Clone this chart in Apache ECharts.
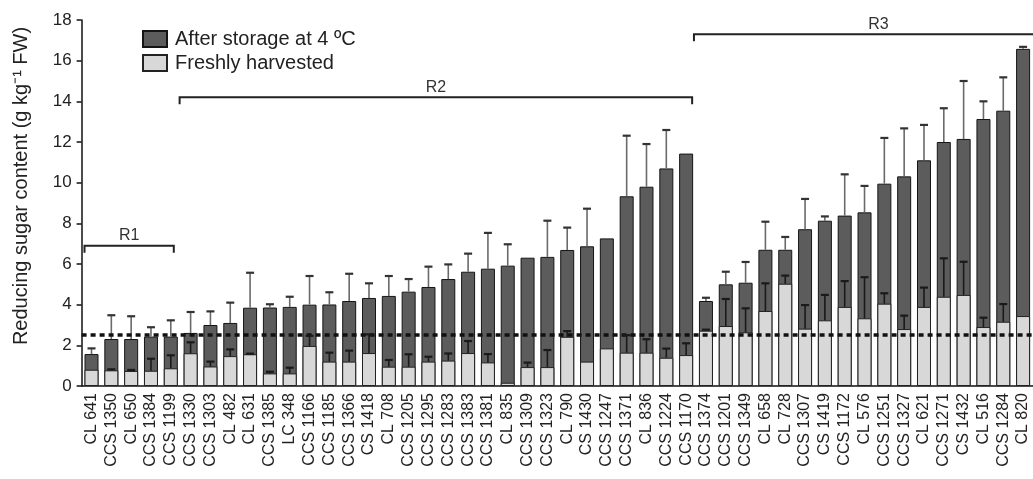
<!DOCTYPE html>
<html>
<head>
<meta charset="utf-8">
<script src="https://cdn.jsdelivr.net/npm/echarts@6/dist/echarts.min.js"></script>
<style>
html,body{margin:0;padding:0;background:#fff;}
#c{width:1033px;height:479px;}
</style>
</head>
<body>
<div id="c"></div>
<script>
const categories = ['CL 641','CCS 1350','CL 650','CCS 1384','CCS 1199','CCS 1330','CCS 1303','CL 482','CL 631','CCS 1385','LC 348','CCS 1166','CCS 1185','CCS 1366','CS 1418','CL 708','CCS 1205','CCS 1295','CCS 1283','CCS 1383','CCS 1381','CL 835','CCS 1309','CCS 1323','CL 790','CS 1430','CCS 1247','CCS 1371','CL 836','CCS 1224','CCS 1170','CCS 1374','CCS 1201','CCS 1349','CL 658','CL 728','CCS 1307','CS 1419','CCS 1172','CL 576','CCS 1251','CCS 1327','CL 621','CCS 1271','CS 1432','CL 516','CCS 1284','CL 820'];
const afterStorage   = [1.57,2.31,2.31,2.43,2.43,2.61,3.00,3.10,3.85,3.86,3.89,4.00,4.01,4.18,4.33,4.43,4.64,4.87,5.26,5.62,5.77,5.92,6.31,6.35,6.69,6.87,7.26,9.33,9.80,10.70,11.43,4.18,5.00,5.08,6.70,6.70,7.71,8.13,8.38,8.54,9.95,10.31,11.10,12.00,12.15,13.13,13.54,16.58];
const afterStorageSD = [0.28,1.17,1.12,0.46,0.80,1.03,0.67,1.00,1.72,0.16,0.50,1.41,0.60,1.34,0.72,0.98,0.62,1.00,0.72,0.89,1.76,1.05,0,1.78,1.10,1.85,0,2.98,2.10,1.89,0,0.16,0.62,1.02,1.38,0.63,1.49,0.21,2.03,1.30,2.25,2.36,1.74,1.66,2.85,0.87,1.64,0.10];
const freshHarvested = [0.80,0.77,0.74,0.75,0.87,1.61,0.96,1.47,1.56,0.62,0.62,1.97,1.20,1.20,1.62,0.95,0.95,1.20,1.25,1.62,1.16,0.16,0.93,0.93,2.42,1.20,1.85,1.64,1.64,1.39,1.52,2.72,2.95,2.64,3.69,5.03,2.82,3.23,3.89,3.33,4.05,2.80,3.89,4.39,4.48,2.90,3.16,3.44];
const freshSD        = [0,0.05,0.05,0.59,0.64,0.54,0.24,0.33,0.03,0.08,0.28,0.50,0.44,0.54,0.92,0.33,0.61,0.24,0.35,0.59,0.41,0,0.22,0.84,0.28,0,0,0.86,0.66,0.45,0.58,0.05,1.33,1.18,1.36,0.40,1.16,1.25,1.27,2.02,0.51,0.66,0.95,1.89,1.63,0.46,0.87,0];
const yTicks = [0,2,4,6,8,10,12,14,16,18];
const threshold = 2.5;
const regionNames = ['R1','R2','R3'];
const regionStart = [0,5,31];
const regionEnd   = [4,30,47];
const regionLevel = [6.9,14.2,17.3];

const FONT = 'Liberation Sans, Arial, sans-serif';
const chart = echarts.init(document.getElementById('c'), null, {renderer:'canvas'});

function errData(vals, sds){ return vals.map((v,i)=>[i, v, sds[i]]); }
function errRender(lineColor, capColor){
  return function(params, api){
    const sd = api.value(2);
    if (!(sd > 0)) return null;
    const v = api.value(1);
    const p0 = api.coord([api.value(0), v]);
    const p1 = api.coord([api.value(0), v + sd]);
    const hw = 4;
    return {type:'group', children:[
      {type:'line', shape:{x1:p0[0], y1:p0[1], x2:p1[0], y2:p1[1]}, style:{stroke:lineColor, lineWidth:1.6}},
      {type:'line', shape:{x1:p1[0]-hw, y1:p1[1], x2:p1[0]+hw, y2:p1[1]}, style:{stroke:capColor, lineWidth:2.2}}
    ]};
  };
}
const bracketOffsets = [[-7,3],[-11,6],[-12,40]];
const regionData = regionNames.map((n,i)=>[regionStart[i], regionEnd[i], regionLevel[i], i]);

chart.setOption({
  animation:false,
  textStyle:{fontFamily:FONT},
  grid:{left:81.6, right:-2, top:20, bottom:93, containLabel:false},
  legend:{
    orient:'vertical', left:137, top:24, itemWidth:24, itemHeight:16, itemGap:4, icon:'rect',
    data:['After storage at 4 ºC','Freshly harvested'],
    textStyle:{fontFamily:FONT, fontSize:20, color:'#222', padding:[0,0,0,3]},
    selectedMode:false
  },
  xAxis:{
    type:'category', data:categories,
    axisLine:{lineStyle:{color:'#111', width:1.5}},
    axisTick:{alignWithLabel:true, length:6, lineStyle:{color:'#111', width:1.5}},
    axisLabel:{rotate:90, fontSize:16, color:'#222', margin:7, fontFamily:FONT, interval:0}
  },
  yAxis:{
    type:'value', min:0, max:18, interval:2,
    axisLine:{show:true, lineStyle:{color:'#111', width:1.5}},
    axisTick:{show:true, length:5, lineStyle:{color:'#111', width:1.5}},
    axisLabel:{fontSize:17, color:'#222', margin:10, fontFamily:FONT,
      formatter:function(v){ return yTicks.indexOf(v) >= 0 ? String(v) : ''; }},
    splitLine:{show:false}
  },
  graphic:[{
    type:'text', x:21, y:186, rotation:Math.PI/2,
    style:{text:'Reducing sugar content (g kg⁻¹ FW)', font:'20px ' + FONT, fill:'#222', align:'center', verticalAlign:'middle'}
  }],
  series:[
    {
      name:'After storage at 4 ºC', type:'bar', data:afterStorage, barWidth:14, barGap:'-100%', z:2,
      itemStyle:{color:'#5c5c5c', borderColor:'#151515', borderWidth:1}
    },
    {
      type:'custom', name:'errAfter', data:errData(afterStorage, afterStorageSD), z:3,
      renderItem:errRender('#6a6a6a', '#333'), encode:{x:0, y:1}, silent:true
    },
    {
      name:'Freshly harvested', type:'bar', data:freshHarvested, barWidth:14, barGap:'-100%', z:4,
      itemStyle:{color:'#d8d8d8', borderColor:'#222', borderWidth:1}
    },
    {
      type:'custom', name:'errFresh', data:errData(freshHarvested, freshSD), z:5,
      renderItem:errRender('#1a1a1a', '#1a1a1a'), encode:{x:0, y:1}, silent:true
    },
    {
      type:'line', name:'threshold', data:[], z:8,
      markLine:{silent:true, symbol:'none', label:{show:false}, animation:false,
        lineStyle:{color:'#111', type:[5,4], width:3.5},
        data:[{yAxis:threshold}]}
    },
    {
      type:'custom', name:'regions', data:regionData, z:6, clip:false, silent:true,
      encode:{x:[0,1], y:2},
      renderItem:function(params, api){
        const idx = api.value(3);
        const off = bracketOffsets[idx];
        const a = api.coord([api.value(0), api.value(2)]);
        const b = api.coord([api.value(1), api.value(2)]);
        const x0 = a[0] + off[0], x1 = b[0] + off[1], y = a[1];
        return {type:'group', children:[
          {type:'polyline', shape:{points:[[x0,y+7],[x0,y],[x1,y],[x1,y+7]]}, style:{stroke:'#222', lineWidth:2, fill:null}},
          {type:'text', style:{text:regionNames[idx], x:(x0+x1)/2, y:y-2, align:'center', verticalAlign:'bottom', font:'16px ' + FONT, fill:'#333'}}
        ]};
      }
    }
  ]
});
</script>
</body>
</html>
